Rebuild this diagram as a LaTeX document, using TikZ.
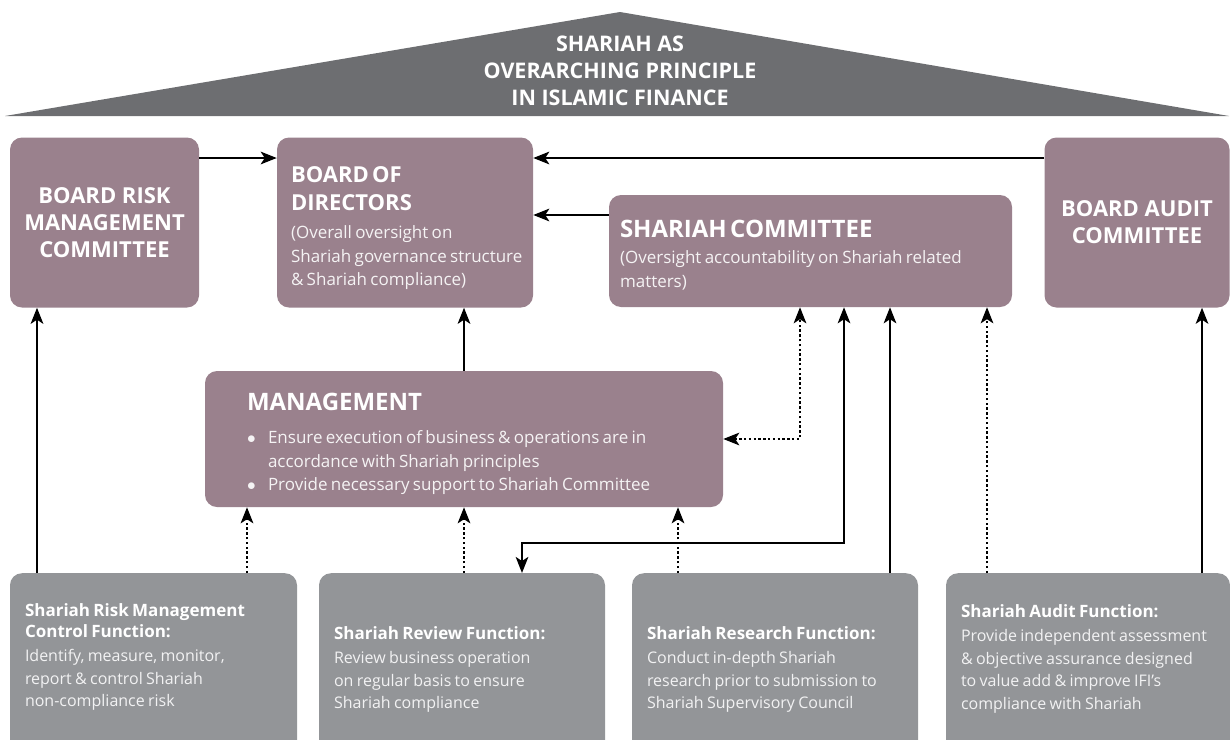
\documentclass[tikz,border=0pt]{standalone}
\usepackage{fontspec}
\setmainfont{Open Sans}
\usetikzlibrary{arrows.meta}
\setlength{\parindent}{0pt}

\definecolor{roofgrey}{HTML}{6D6E71}
\definecolor{boardmauve}{HTML}{9A818D}
\definecolor{fngrey}{HTML}{939598}

\newcommand{\roofhd}{\fontsize{21.5}{27}\selectfont\bfseries}
\newcommand{\hdsmall}{\fontsize{22}{27}\selectfont\bfseries}
\newcommand{\hdbod}{\fontsize{22}{28}\selectfont\bfseries}
\newcommand{\hdbig}{\fontsize{24}{28}\selectfont\bfseries}
\newcommand{\bodytop}{\fontsize{17}{23.5}\selectfont\color{white!90!boardmauve}}
\newcommand{\fnhd}{\fontsize{17}{21}\selectfont\bfseries}
\newcommand{\fnbody}{\fontsize{16}{22.5}\selectfont\color{white!88!fngrey}}
\newcommand{\mgmtbullet}{\makebox[21pt][l]{$\bullet$}}

\begin{document}
\begin{tikzpicture}[
    x=1pt, y=-1pt,
    arr/.style={->, line width=2.5pt, black, >={Stealth[length=16pt, width=12.5pt, inset=4pt]}},
    dotarr/.style={arr, dash pattern=on 2.5pt off 2.3pt},
    topbox/.style={fill=boardmauve, rounded corners=12pt, inner sep=0pt},
    fnbox/.style={fill=fngrey, rounded corners=12pt, inner sep=0pt, minimum height=190pt},
    boxtxt/.style={text=white, inner sep=0pt, text width=420pt, align=left, anchor=north west},
]
\useasboundingbox (0,0) rectangle (1230,739);
\clip (0,0) rectangle (1230,739);

% --- Roof ---
\fill[roofgrey] (5,116) -- (620,12) -- (1229,116) -- cycle;
\node[text=white, align=center, font=\roofhd] (roof) at (620,71)
    {SHARIAH AS\\OVERARCHING PRINCIPLE\\IN ISLAMIC FINANCE};

% --- Board level ---
\node[topbox, minimum width=189pt, minimum height=170pt,
      text=white, align=center, font=\hdsmall]
    (brmc) at (104.5,222.5) {BOARD RISK\\MANAGEMENT\\COMMITTEE};
\node[topbox, minimum width=256pt, minimum height=170pt] (bod) at (405,222.5) {};
\node[boxtxt] (bodtxt) at ([xshift=14pt, yshift=-29pt]bod.north west)
    {{\hdbod BOARD OF\\DIRECTORS\par}\vspace{5pt}
     {\bodytop (Overall oversight on\\Shariah governance structure\\\& Shariah compliance)\par}};
\node[topbox, minimum width=403pt, minimum height=112pt] (shc) at (810.5,251) {};
\node[boxtxt] (shctxt) at ([xshift=11pt, yshift=-25pt]shc.north west)
    {{\hdbig SHARIAH COMMITTEE\par}\vspace{3pt}
     {\bodytop (Oversight accountability on Shariah related\\matters)\par}};
\node[topbox, minimum width=185pt, minimum height=170pt,
      text=white, align=center, font=\hdsmall]
    (bac) at (1137,222.5) {BOARD AUDIT\\COMMITTEE};

% --- Management ---
\node[topbox, minimum width=518pt, minimum height=136pt] (mgmt) at (464,439) {};
\node[boxtxt] (mgmttxt) at ([xshift=42pt, yshift=-22pt]mgmt.north west)
    {{\hdbig MANAGEMENT\par}\vspace{10pt}
     {\bodytop \mgmtbullet Ensure execution of business \& operations are in\\
      \hspace*{21pt}accordance with Shariah principles\\
      \mgmtbullet Provide necessary support to Shariah Committee\par}};

% --- Control functions ---
\node[fnbox, minimum width=287pt, anchor=north] (srmc) at (153.5,573) {};
\node[fnbox, minimum width=286pt, anchor=north] (srev) at (462,573) {};
\node[fnbox, minimum width=286pt, anchor=north] (sres) at (775,573) {};
\node[fnbox, minimum width=284pt, anchor=north] (saud) at (1088,573) {};

\node[boxtxt] (srmctxt) at ([xshift=15pt, yshift=-30pt]srmc.north west)
    {{\fnhd Shariah Risk Management\\Control Function:\par}\vspace{2pt}
     {\fnbody Identify, measure, monitor,\\report \& control Shariah\\non-compliance risk\par}};
\node[boxtxt] (srevtxt) at ([xshift=15pt, yshift=-53pt]srev.north west)
    {{\fnhd Shariah Review Function:\par}\vspace{2pt}
     {\fnbody Review business operation\\on regular basis to ensure\\Shariah compliance\par}};
\node[boxtxt] (srestxt) at ([xshift=15pt, yshift=-53pt]sres.north west)
    {{\fnhd Shariah Research Function:\par}\vspace{2pt}
     {\fnbody Conduct in-depth Shariah\\research prior to submission to\\Shariah Supervisory Council\par}};
\node[boxtxt] (saudtxt) at ([xshift=15pt, yshift=-31pt]saud.north west)
    {{\fnhd Shariah Audit Function:\par}\vspace{2pt}
     {\fnbody Provide independent assessment\\\& objective assurance designed\\to value add \& improve IFI’s\\compliance with Shariah\par}};

% --- Reporting lines ---
\draw[arr] (brmc.east |- 0,158) -- (bod.west |- 0,158);
\draw[arr] (bac.west |- 0,158) -- (bod.east |- 0,158);
\draw[arr] (shc.west |- 0,215) -- (bod.east |- 0,215);
\draw[arr] (mgmt.north) -- (mgmt.north |- bod.south);
\draw[dotarr, <->] (mgmt.east) -| (800,0 |- shc.south);
\draw[arr, <->] (844,0 |- shc.south) -- (844,543) -| (522,0 |- srev.north);
\draw[arr] (890,0 |- sres.north) -- (890,0 |- shc.south);
\draw[dotarr] (987,0 |- saud.north) -- (987,0 |- shc.south);
\draw[arr] (1202,0 |- saud.north) -- (1202,0 |- bac.south);
\draw[arr] (37,0 |- srmc.north) -- (37,0 |- brmc.south);
\draw[dotarr] (247,0 |- srmc.north) -- (247,0 |- mgmt.south);
\draw[dotarr] (464,0 |- srev.north) -- (464,0 |- mgmt.south);
\draw[dotarr] (678,0 |- sres.north) -- (678,0 |- mgmt.south);

\end{tikzpicture}
\end{document}
